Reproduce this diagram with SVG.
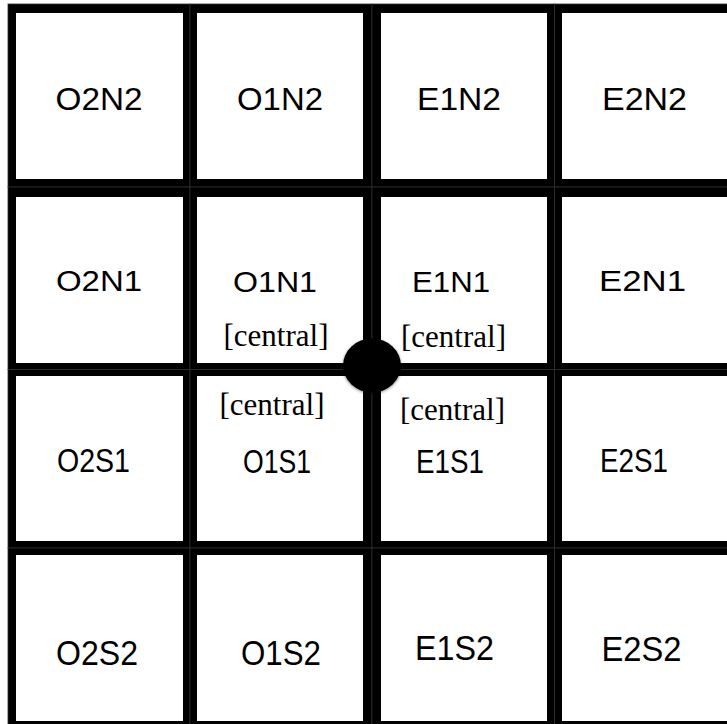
<svg xmlns="http://www.w3.org/2000/svg" width="727" height="724" viewBox="0 0 727 724">
<style>
.frame{fill:#000;stroke:#2e2e2e;stroke-width:0.8}
.face{fill:#fff}
.lbl{font-family:"Liberation Sans",Arial,sans-serif;fill:#000;text-anchor:middle}
.r1{font-size:32px}
.r2{font-size:30px}
.r3{font-size:34px}
.r4{font-size:35px}
.tag{font-family:"Liberation Serif","Times New Roman",serif;font-size:31px;fill:#000;text-anchor:middle}
</style>
<defs>
<filter id="sh" x="-30%" y="-30%" width="160%" height="160%">
<feDropShadow dx="0" dy="1" stdDeviation="1.5" flood-color="#000" flood-opacity="0.45"/>
</filter>
</defs>
<rect width="727" height="724" fill="#fff"/>
<g id="cells">
<!-- row 1 -->
<g id="O2N2"><rect class="frame" x="8" y="4" width="182" height="183"/><rect class="face" x="16" y="13" width="167" height="166"/><text class="lbl r1" x="99" y="110" textLength="87" lengthAdjust="spacingAndGlyphs">O2N2</text></g>
<g id="O1N2"><rect class="frame" x="190" y="4" width="182" height="183"/><rect class="face" x="197" y="13" width="166" height="166"/><text class="lbl r1" x="280" y="110" textLength="86" lengthAdjust="spacingAndGlyphs">O1N2</text></g>
<g id="E1N2"><rect class="frame" x="372" y="4" width="182.5" height="183"/><rect class="face" x="381" y="13" width="166" height="166"/><text class="lbl r1" x="459" y="110" textLength="84" lengthAdjust="spacingAndGlyphs">E1N2</text></g>
<g id="E2N2"><rect class="frame" x="554.5" y="4" width="200" height="183"/><rect class="face" x="562" y="13" width="190" height="166"/><text class="lbl r1" x="644.5" y="110" textLength="85" lengthAdjust="spacingAndGlyphs">E2N2</text></g>
<!-- row 2 -->
<g id="O2N1"><rect class="frame" x="8" y="187" width="182" height="182.5"/><rect class="face" x="16" y="197" width="167" height="166"/><text class="lbl r2" x="99" y="291" textLength="86" lengthAdjust="spacingAndGlyphs">O2N1</text></g>
<g id="O1N1"><rect class="frame" x="190" y="187" width="182" height="182.5"/><rect class="face" x="197" y="197" width="166" height="166"/><text class="lbl r2" x="275" y="292" textLength="84" lengthAdjust="spacingAndGlyphs">O1N1</text><text class="tag" x="276" y="346">[central]</text></g>
<g id="E1N1"><rect class="frame" x="372" y="187" width="182.5" height="182.5"/><rect class="face" x="381" y="197" width="166" height="166"/><text class="lbl r2" x="451" y="292" textLength="78" lengthAdjust="spacingAndGlyphs">E1N1</text><text class="tag" x="453.5" y="347">[central]</text></g>
<g id="E2N1"><rect class="frame" x="554.5" y="187" width="200" height="182.5"/><rect class="face" x="562" y="197" width="190" height="166"/><text class="lbl r2" x="642.5" y="291" textLength="87" lengthAdjust="spacingAndGlyphs">E2N1</text></g>
<!-- row 3 -->
<g id="O2S1"><rect class="frame" x="8" y="369.5" width="182" height="178.5"/><rect class="face" x="16" y="376" width="167" height="165"/><text class="lbl r3" x="93.5" y="472" textLength="73" lengthAdjust="spacingAndGlyphs">O2S1</text></g>
<g id="O1S1"><rect class="frame" x="190" y="369.5" width="182" height="178.5"/><rect class="face" x="197" y="376" width="166" height="165"/><text class="tag" x="272" y="415">[central]</text><text class="lbl r3" x="277" y="473" textLength="68" lengthAdjust="spacingAndGlyphs">O1S1</text></g>
<g id="E1S1"><rect class="frame" x="372" y="369.5" width="182.5" height="178.5"/><rect class="face" x="381" y="376" width="166" height="165"/><text class="tag" x="452.5" y="420">[central]</text><text class="lbl r3" x="450" y="473" textLength="68" lengthAdjust="spacingAndGlyphs">E1S1</text></g>
<g id="E2S1"><rect class="frame" x="554.5" y="369.5" width="200" height="178.5"/><rect class="face" x="562" y="376" width="190" height="165"/><text class="lbl r3" x="634" y="472" textLength="68" lengthAdjust="spacingAndGlyphs">E2S1</text></g>
<!-- row 4 -->
<g id="O2S2"><rect class="frame" x="8" y="548" width="182" height="190"/><rect class="face" x="16" y="555" width="167" height="166"/><text class="lbl r4" x="97" y="665" textLength="82" lengthAdjust="spacingAndGlyphs">O2S2</text></g>
<g id="O1S2"><rect class="frame" x="190" y="548" width="182" height="190"/><rect class="face" x="197" y="555" width="166" height="166"/><text class="lbl r4" x="281" y="665" textLength="80" lengthAdjust="spacingAndGlyphs">O1S2</text></g>
<g id="E1S2"><rect class="frame" x="372" y="548" width="182.5" height="190"/><rect class="face" x="381" y="555" width="166" height="166"/><text class="lbl r4" x="454.5" y="660" textLength="79" lengthAdjust="spacingAndGlyphs">E1S2</text></g>
<g id="E2S2"><rect class="frame" x="554.5" y="548" width="200" height="190"/><rect class="face" x="562" y="555" width="190" height="166"/><text class="lbl r4" x="641.5" y="661" textLength="80" lengthAdjust="spacingAndGlyphs">E2S2</text></g>
</g>
<g id="connectors">
<ellipse id="junction" cx="372" cy="365.5" rx="29" ry="27" fill="#000" filter="url(#sh)"/>
</g>
</svg>
